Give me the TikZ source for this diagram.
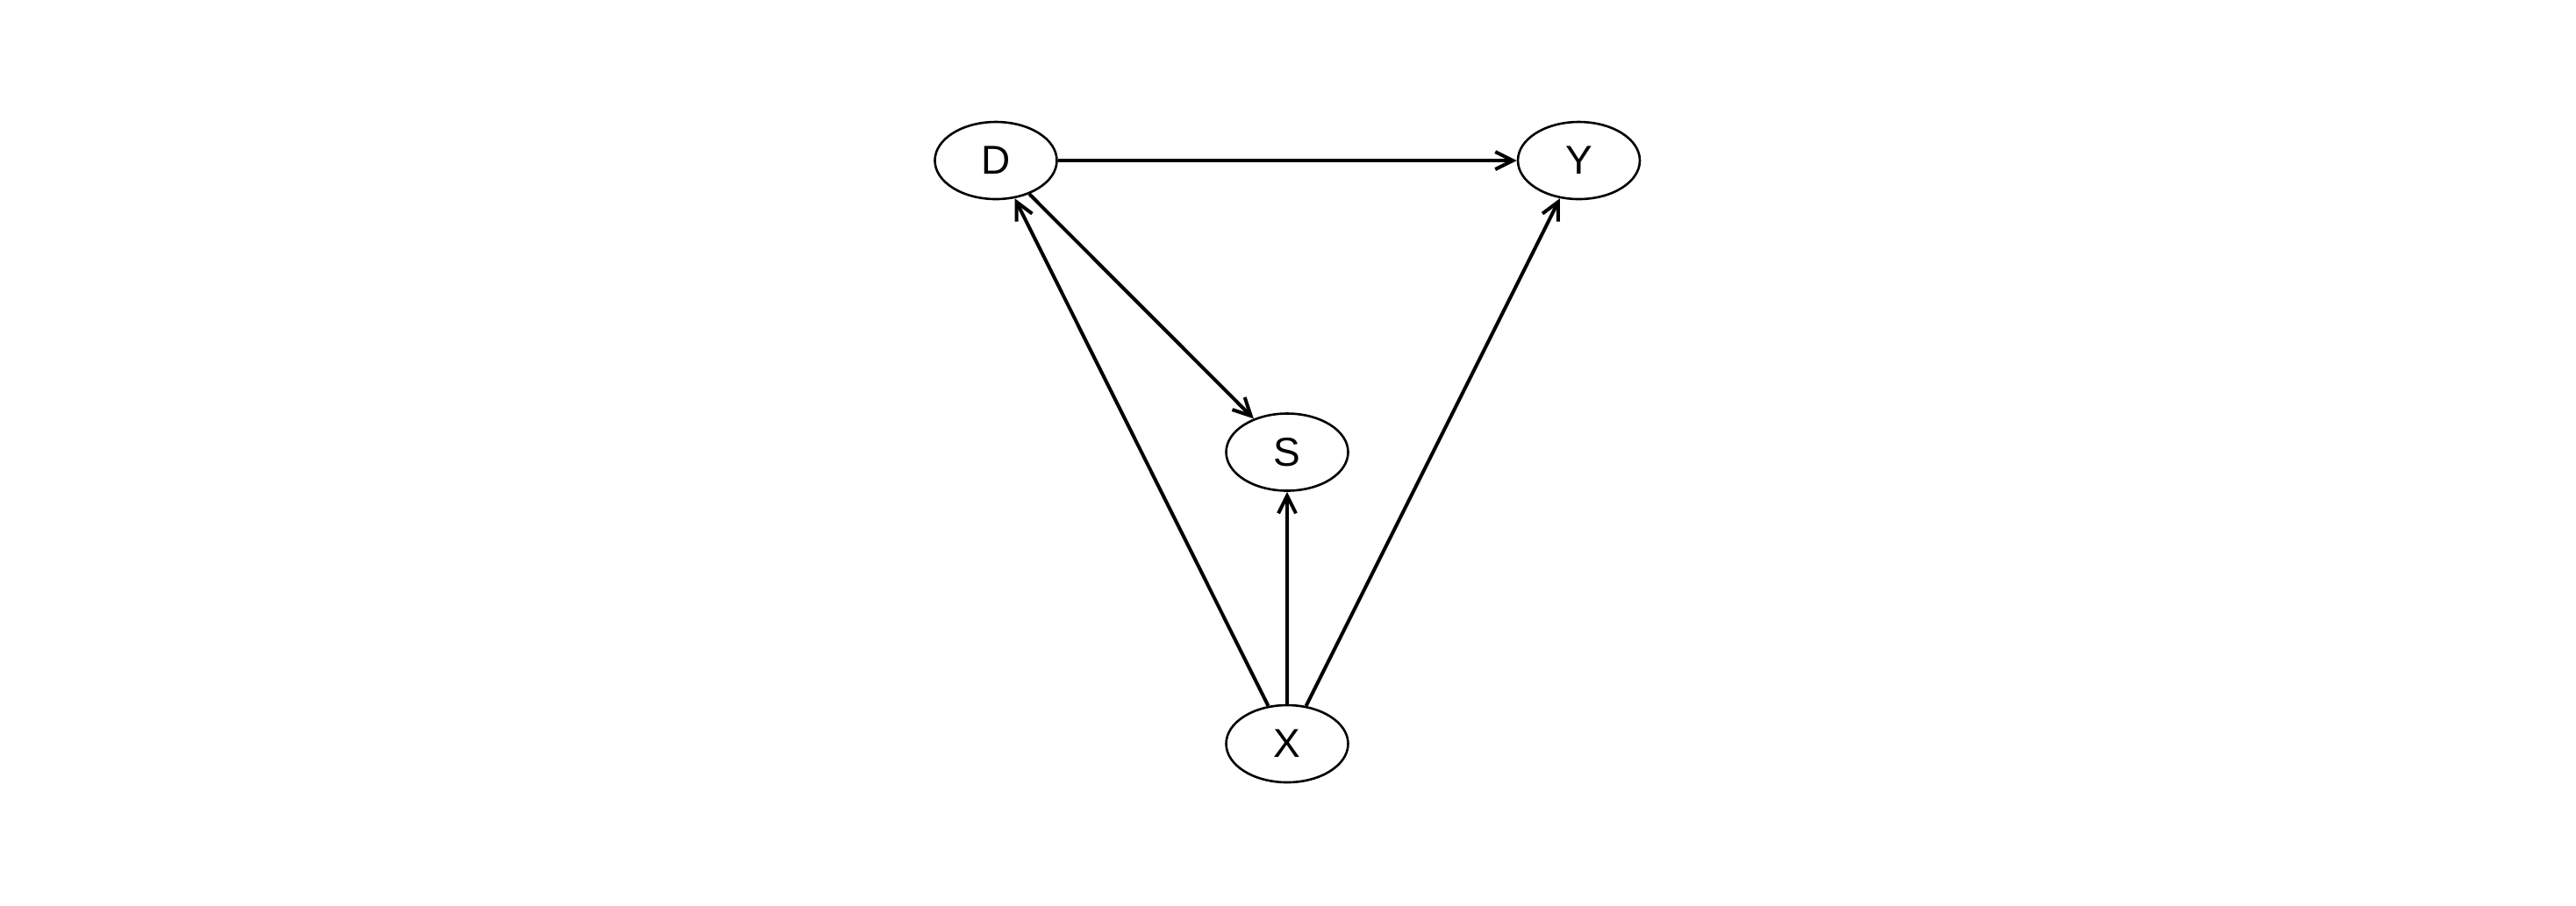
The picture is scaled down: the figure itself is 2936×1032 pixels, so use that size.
\documentclass[tikz,border=0pt]{standalone}
\usepackage{fontspec}
\setmainfont{Liberation Sans}
\usetikzlibrary{shapes.geometric,arrows.meta}
\begin{document}
\begin{tikzpicture}[x=0.25pt,y=-0.25pt,
  var/.style={ellipse,draw,line width=0.65pt,minimum width=34.75pt,minimum height=22pt,inner sep=0pt,font=\fontsize{11.5}{13}\selectfont},
  edge/.style={line width=1pt,-{Straight Barb[length=5pt,width=5pt,line width=1pt]}}]
\useasboundingbox (0,0) rectangle (2936,1032);
\node[var] (D) at (1135,183) {D};
\node[var] (Y) at (1799.5,183) {Y};
\node[var] (S) at (1467,515.5) {S};
\node[var] (X) at (1467,848) {X};
\draw[edge] (D) -- (Y);
\draw[edge] (D) -- (S);
\draw[edge] (X) -- (D);
\draw[edge] (X) -- (S);
\draw[edge] (X) -- (Y);
\end{tikzpicture}
\end{document}
